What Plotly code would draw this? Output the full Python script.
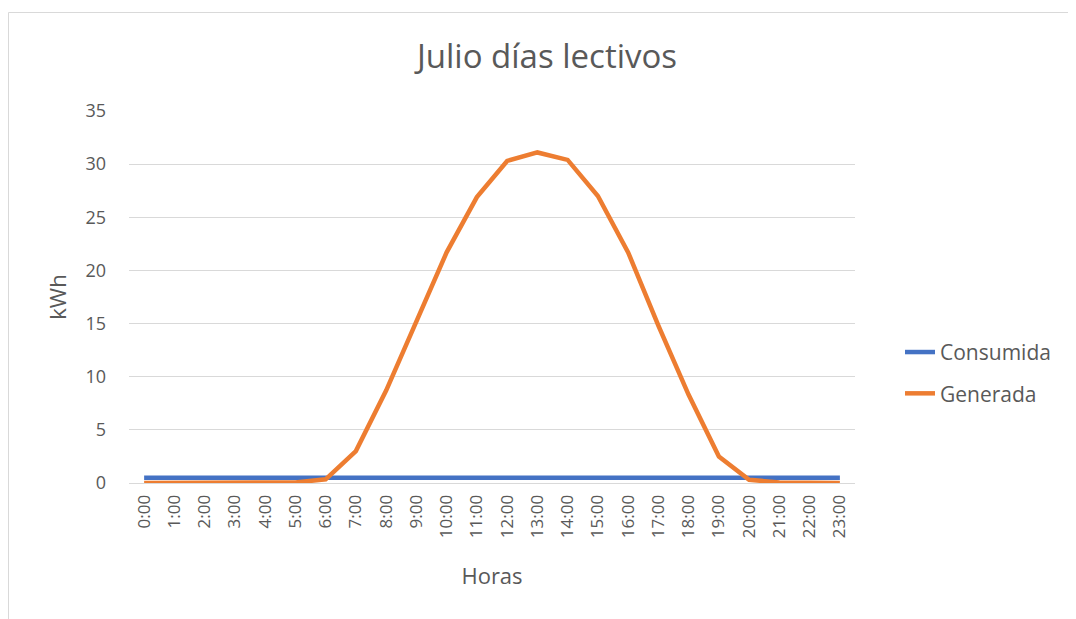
import plotly.graph_objects as go

horas = [f"{h}:00" for h in range(24)]
consumida = [0.5] * 24
generada = [0, 0, 0, 0, 0, 0.05, 0.35, 3.0, 8.7, 15.1, 21.7, 26.9,
            30.3, 31.1, 30.4, 27.0, 21.7, 14.8, 8.3, 2.5, 0.3, 0.05, 0, 0]

FONT = "Open Sans"
TXT = "#595959"

fig = go.Figure()
fig.add_trace(go.Scatter(x=horas, y=consumida, mode="lines", name="Consumida",
                         line=dict(color="#4472C4", width=4.5), legendgroup="a"))
fig.add_trace(go.Scatter(x=horas, y=generada, mode="lines", name="Generada",
                         line=dict(color="#ED7D31", width=4.5), legendgroup="b"))

fig.update_layout(
    width=1076, height=619,
    margin=dict(l=121, r=229, t=103, b=144),
    paper_bgcolor="white", plot_bgcolor="white",
    font=dict(family=FONT, color=TXT, size=16),
    title=dict(text="Julio días lectivos", x=539 / 1076, xanchor="center",
               y=1 - 48 / 619, yanchor="middle",
               font=dict(size=33, color=TXT, family=FONT)),
    showlegend=True,
    legend=dict(x=1.062, xanchor="left", y=0.296, yanchor="middle",
                font=dict(size=21, color=TXT), traceorder="grouped",
                tracegroupgap=11, bgcolor="rgba(0,0,0,0)"),
    xaxis=dict(type="category", range=[-0.5, 23.5], tickangle=-90,
               showgrid=False, showline=True, linecolor="#D9D9D9", linewidth=1,
               ticks="", ticklabelstandoff=4,
               tickfont=dict(size=17, color=TXT),
               title=dict(text="Horas", font=dict(size=22, color=TXT), standoff=31)),
    yaxis=dict(range=[0, 35], dtick=5, showgrid=True, gridcolor="#D9D9D9",
               gridwidth=1, zeroline=False, showline=False, ticks="",
               ticklabelstandoff=22,
               tickfont=dict(size=18, color=TXT),
               title=dict(text="kWh", font=dict(size=22, color=TXT), standoff=12)),
    shapes=[dict(type="rect", xref="paper", yref="paper",
                 x0=(0.5 - 121) / 726, x1=1.6, y0=-0.6, y1=(483 - 12.5) / 372,
                 line=dict(color="#D9D9D9", width=1), fillcolor="rgba(0,0,0,0)",
                 layer="below")],
)

fig.write_html("out.html")
